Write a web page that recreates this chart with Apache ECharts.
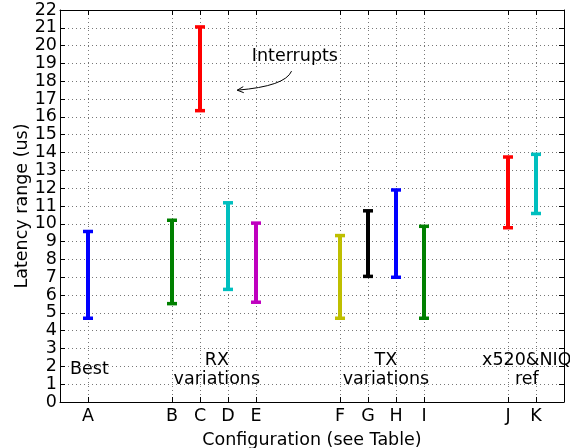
<!DOCTYPE html>
<html>
<head>
<meta charset="utf-8">
<script src="https://cdn.jsdelivr.net/npm/echarts@6/dist/echarts.min.js"></script>
<style>
  html, body { margin: 0; padding: 0; background: #fff; }
  #chart { width: 570px; height: 448px; }
</style>
</head>
<body>
<div id="chart"></div>
<script>
// Latency range (min..max) per configuration, in microseconds
const configs      = ['A', 'B', 'C', 'D', 'E', 'F', 'G', 'H', 'I', 'J', 'K'];
const configSlots  = [1, 4, 5, 6, 7, 10, 11, 12, 13, 16, 17];   // slot on the configuration axis
const latencyLow   = [4.7, 5.52, 16.35, 6.32, 5.6, 4.7, 7.05, 7.0, 4.7, 9.78, 10.58];
const latencyHigh  = [9.57, 10.2, 21.05, 11.18, 10.04, 9.34, 10.73, 11.9, 9.86, 13.75, 13.9];
const groupLabels  = ['Best', 'RX\nvariations', 'TX\nvariations', 'x520&NIQ\nref'];
const slotCount    = 18;
const yMax         = 22;

// Styling / annotation placement (axis units)
const barColors    = ['#0000ff', '#008000', '#ff0000', '#00bfbf', '#bf00bf', '#bfbf00',
                      '#000000', '#0000ff', '#008000', '#ff0000', '#00bfbf'];
const groupLabelX  = [1.05, 5.6, 11.64, 16.67];
const groupLabelY  = 1.8;
const noteText     = 'Interrupts';
const notePos      = [8.39, 19.37];
const arrowFrom    = [8.27, 18.57];
const arrowCtrl    = [8.04, 17.72];
const arrowTo      = [6.33, 17.5];

const FONT = 'DejaVu Sans';
const FS = 17.5;

const slotNames = [];
for (let i = 0; i <= slotCount; i++) {
  const k = configSlots.indexOf(i);
  slotNames.push(k >= 0 ? configs[k] : '#' + i);
}
const isTick = (idx) => configSlots.indexOf(idx) >= 0;

const gridLine = { show: true, lineStyle: { color: '#777', width: 1, type: [1, 3] } };

const chart = echarts.init(document.getElementById('chart'), null, { renderer: 'canvas' });

chart.setOption({
  animation: false,
  backgroundColor: '#fff',
  grid: { left: 60, right: 6, top: 10, bottom: 46, containLabel: false, outerBoundsMode: 'none' },
  xAxis: [
    {
      type: 'category', position: 'bottom', data: slotNames, boundaryGap: false,
      name: 'Configuration (see Table)', nameLocation: 'middle', nameGap: 29, nameMoveOverlap: false,
      nameTextStyle: { fontFamily: FONT, fontSize: FS, color: '#000' },
      axisLine: { show: true, onZero: false, lineStyle: { color: '#000', width: 1 } },
      axisTick: { show: true, inside: true, length: 5, interval: isTick, lineStyle: { color: '#000' } },
      axisLabel: {
        show: true, interval: isTick, margin: 5,
        fontFamily: FONT, fontSize: FS, color: '#000',
        formatter: (v) => (v.charAt(0) === '#' ? '' : v)
      },
      splitLine: Object.assign({ interval: isTick }, gridLine)
    },
    {
      type: 'category', position: 'top', data: slotNames, boundaryGap: false,
      axisLine: { show: true, onZero: false, lineStyle: { color: '#000', width: 1 } },
      axisTick: { show: true, inside: true, length: 5, interval: isTick, lineStyle: { color: '#000' } },
      axisLabel: { show: false },
      splitLine: { show: false }
    },
    { type: 'value', min: 0, max: slotCount, show: false }
  ],
  yAxis: [
    {
      type: 'value', position: 'left', min: 0, max: yMax, interval: 1,
      name: 'Latency range (us)', nameLocation: 'middle', nameGap: 29, nameMoveOverlap: false,
      nameTextStyle: { fontFamily: FONT, fontSize: FS, color: '#000' },
      axisLine: { show: true, onZero: false, lineStyle: { color: '#000', width: 1 } },
      axisTick: { show: true, inside: true, length: 5, lineStyle: { color: '#000' } },
      axisLabel: { show: true, margin: 3, showMinLabel: true, showMaxLabel: true, hideOverlap: false,
                   fontFamily: FONT, fontSize: FS, color: '#000' },
      splitLine: gridLine
    },
    {
      type: 'value', position: 'right', min: 0, max: yMax, interval: 1,
      axisLine: { show: true, onZero: false, lineStyle: { color: '#000', width: 1 } },
      axisTick: { show: true, inside: true, length: 5, lineStyle: { color: '#000' } },
      axisLabel: { show: false },
      splitLine: { show: false }
    }
  ],
  series: [
    {
      // min..max range bars with caps
      type: 'custom',
      xAxisIndex: 0, yAxisIndex: 0,
      clip: false,
      data: configs.map((c, i) => ({
        value: [configSlots[i], latencyLow[i], latencyHigh[i]],
        itemStyle: { color: barColors[i] }
      })),
      renderItem: (params, api) => {
        const x = api.value(0);
        const lo = api.coord([x, api.value(1)]);
        const hi = api.coord([x, api.value(2)]);
        const color = api.visual('color');
        const capHalf = 5;
        return {
          type: 'group',
          children: [
            { type: 'line', shape: { x1: lo[0], y1: lo[1], x2: hi[0], y2: hi[1] },
              style: { stroke: color, lineWidth: 4 } },
            { type: 'line', shape: { x1: lo[0] - capHalf, y1: lo[1], x2: lo[0] + capHalf, y2: lo[1] },
              style: { stroke: color, lineWidth: 3.5 } },
            { type: 'line', shape: { x1: hi[0] - capHalf, y1: hi[1], x2: hi[0] + capHalf, y2: hi[1] },
              style: { stroke: color, lineWidth: 3.5 } }
          ]
        };
      }
    },
    {
      // group captions
      type: 'custom',
      xAxisIndex: 2, yAxisIndex: 0,
      clip: false, silent: true,
      data: groupLabels.map((t, i) => [groupLabelX[i], groupLabelY]),
      renderItem: (params, api) => {
        const p = api.coord([api.value(0), api.value(1)]);
        return {
          type: 'text',
          style: {
            x: p[0], y: p[1], text: groupLabels[params.dataIndex],
            fill: '#000', fontFamily: FONT, fontSize: FS, lineHeight: 18.5,
            align: 'center', verticalAlign: 'middle'
          }
        };
      }
    },
    {
      // "Interrupts" note with curved arrow
      type: 'custom',
      xAxisIndex: 2, yAxisIndex: 0,
      clip: false, silent: true,
      data: [[notePos[0], notePos[1]]],
      renderItem: (params, api) => {
        const t = api.coord(notePos);
        const s = api.coord(arrowFrom);
        const c = api.coord(arrowCtrl);
        const e = api.coord(arrowTo);
        const dx = e[0] - c[0], dy = e[1] - c[1];
        const len = Math.sqrt(dx * dx + dy * dy);
        const ux = dx / len, uy = dy / len;
        const head = 7, spread = 0.45;
        const cos = Math.cos(spread), sin = Math.sin(spread);
        const a1 = [e[0] - head * (ux * cos - uy * sin), e[1] - head * (uy * cos + ux * sin)];
        const a2 = [e[0] - head * (ux * cos + uy * sin), e[1] - head * (uy * cos - ux * sin)];
        return {
          type: 'group',
          children: [
            { type: 'text', style: { x: t[0], y: t[1], text: noteText, fill: '#000',
              fontFamily: FONT, fontSize: FS, align: 'center', verticalAlign: 'middle' } },
            { type: 'bezierCurve',
              shape: { x1: s[0], y1: s[1], x2: e[0], y2: e[1], cpx1: c[0], cpy1: c[1] },
              style: { stroke: '#000', lineWidth: 1, fill: null } },
            { type: 'polyline', shape: { points: [a1, e, a2] },
              style: { stroke: '#000', lineWidth: 1, fill: null } }
          ]
        };
      }
    }
  ]
});
</script>
</body>
</html>
